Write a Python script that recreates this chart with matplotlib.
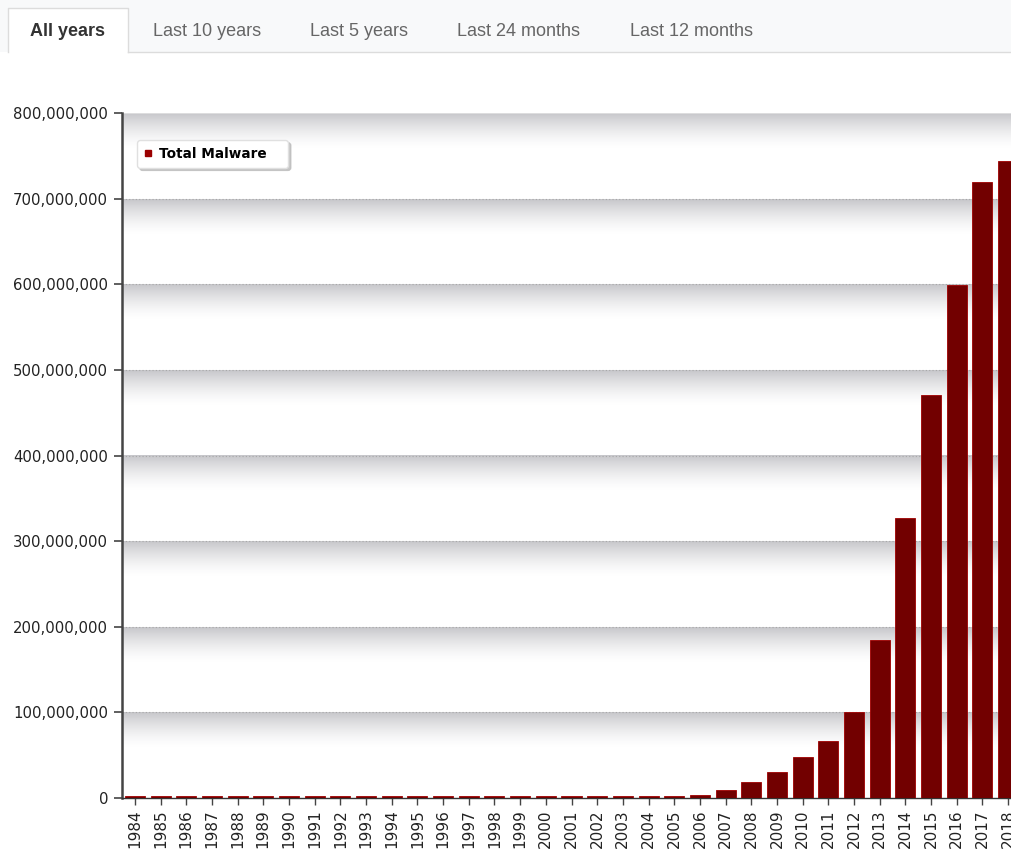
import numpy as np
import matplotlib
matplotlib.use('Agg')
import matplotlib.pyplot as plt
from matplotlib.lines import Line2D
from matplotlib.patches import Rectangle
from matplotlib.ticker import FuncFormatter

years = [str(y) for y in range(1984, 2019)]
# total malware (millions)
malware_m = [2.0, 2.0, 2.0, 2.0, 2.0, 2.0, 2.0, 2.0, 2.0, 2.0,
             2.0, 2.0, 2.0, 2.0, 2.0, 2.0, 2.0, 2.0, 2.0, 2.2,
             2.5, 2.8, 3.8, 9.7, 18.3, 30.7, 48.0, 66.5, 101.0, 184.5,
             327.0, 471.0, 599.0, 720.0, 744.0]
tabs = ['All years', 'Last 10 years', 'Last 5 years', 'Last 24 months', 'Last 12 months']
tab_x = [68, 153, 310, 457, 630]

W, H = 1011, 850
fig = plt.figure(figsize=(W / 100, H / 100), dpi=100)
fig.patch.set_facecolor('white')

# tab strip at the top
fig.patches.append(Rectangle((0, 1 - 52 / H), 1, 52 / H, transform=fig.transFigure,
                             facecolor='#f8f9fa', edgecolor='none', zorder=0))
fig.add_artist(Line2D([128 / W, 1], [1 - 52 / H, 1 - 52 / H], transform=fig.transFigure,
                      color='#dcdcdc', lw=1))
fig.add_artist(Line2D([8 / W, 8 / W, 128 / W, 128 / W],
                      [1 - 52 / H, 1 - 8 / H, 1 - 8 / H, 1 - 52 / H],
                      transform=fig.transFigure, color='#dcdcdc', lw=1))
fig.patches.append(Rectangle((8 / W, 1 - 52 / H), 120 / W, 44 / H, transform=fig.transFigure,
                             facecolor='white', edgecolor='none', zorder=0.5))
for i, (t, x) in enumerate(zip(tabs, tab_x)):
    if i == 0:
        fig.text(x / W, 1 - 31 / H, t, ha='center', va='center', fontsize=13,
                 family='Liberation Sans', weight='bold', color='#333333')
    else:
        fig.text(x / W, 1 - 31 / H, t, ha='left', va='center', fontsize=13,
                 family='Liberation Sans', color='#666666')

ax = fig.add_axes([122 / W, 52 / H, (1021 - 122) / W, 685 / H])
x = np.arange(len(years))
vals = np.array(malware_m) * 1e6

yticks = np.arange(0, 800e6 + 1, 100e6)

# grey gradient bands under each grid line
grad = np.zeros((64, 2, 4))
grad[..., 0] = 0.77
grad[..., 1] = 0.77
grad[..., 2] = 0.785
grad[..., 3] = 0.95 * np.linspace(0, 1, 64)[:, None] ** 1.5
for v in yticks[1:]:
    ax.imshow(grad, extent=(-0.5, len(years) - 0.5, v - 42e6, v), origin='lower',
              aspect='auto', zorder=0, interpolation='bilinear')
    if v < yticks[-1]:
        ax.axhline(v, color='#a8a8a8', lw=0.8, ls=(0, (1, 2)), zorder=0.5)
    else:
        ax.axhline(v, color='#e2e2e2', lw=1.2, zorder=0.5)

ax.bar(x, vals, width=0.78, color='#720000', edgecolor='#a00000', linewidth=0.6, zorder=3)
ax.set_xlim(-0.5, len(years) - 0.5)
ax.set_ylim(0, 800e6)

ax.set_yticks(yticks)
ax.yaxis.set_major_formatter(FuncFormatter(lambda v, p: f'{int(v):,}'))
ax.set_xticks(x)
ax.set_xticklabels(years, rotation=90)
ax.tick_params(axis='y', length=6, width=1.2, color='#444444', labelsize=10.7,
               labelcolor='#222222', pad=4)
ax.tick_params(axis='x', length=5, width=1, color='#444444', labelsize=11,
               labelcolor='#222222', pad=3)
for s in ['top', 'right']:
    ax.spines[s].set_visible(False)
ax.spines['left'].set_color('#444444')
ax.spines['left'].set_linewidth(1.8)
ax.spines['bottom'].set_color('#333333')
ax.spines['bottom'].set_linewidth(1)
ax.set_facecolor('white')

handle = Line2D([], [], marker='s', color='none', markerfacecolor='#9b0000',
                markeredgecolor='#9b0000', markersize=4.5)
leg = ax.legend([handle], ['Total Malware'], loc='upper left', mode='expand',
                bbox_to_anchor=(137 / W, 1 - 168 / H, 151 / W, 28 / H),
                bbox_transform=fig.transFigure,
                frameon=True, fancybox=True, shadow={'color': '#bbbbbb', 'alpha': 0.8},
                handlelength=0.6, handletextpad=0.55, borderpad=0.5, borderaxespad=0,
                prop={'size': 9.8, 'weight': 'bold'})
leg.get_frame().set_edgecolor('#e0e0e0')
leg.get_frame().set_facecolor('white')
leg.get_frame().set_alpha(1)
leg.set_zorder(5)

fig.savefig('out.png', dpi=100)
